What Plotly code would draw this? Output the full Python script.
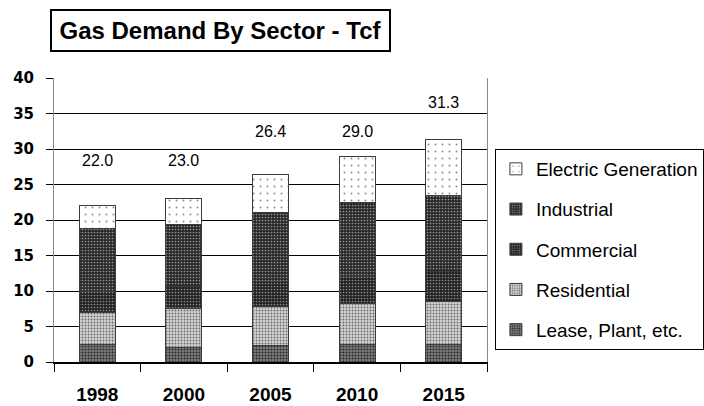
import plotly.graph_objects as go

# ───────────────────────── data (Tcf) ─────────────────────────
years = ["1998", "2000", "2005", "2010", "2015"]

lease_plant = [2.5, 2.1, 2.3, 2.5, 2.5]
residential = [4.5, 5.4, 5.5, 5.8, 6.0]
commercial = [3.0, 3.2, 3.5, 3.8, 4.2]
industrial = [8.8, 8.7, 9.8, 10.3, 10.7]
electric_gen = [3.2, 3.6, 5.3, 6.6, 7.9]

y_ticks = [0, 5, 10, 15, 20, 25, 30, 35, 40]

# ───────────────────────── styling ─────────────────────────
FONT = "Liberation Sans, Arial, sans-serif"
OUTLINE = "#3c3c3c"

series = [
    # name, values, bg, fg, dot size, solidity
    ("Lease, Plant, etc.", lease_plant, "#7c7c7c", "#262626", 3, 0.35),
    ("Residential", residential, "#d2d2d2", "#6a6a6a", 3, 0.3),
    ("Commercial", commercial, "#222222", "#8c8c8c", 3, 0.25),
    ("Industrial", industrial, "#282828", "#959595", 3, 0.25),
    ("Electric Generation", electric_gen, "#ffffff", "#8c8c8c", 7, 0.06),
]

fig = go.Figure()
for i, (name, vals, bg, fg, sz, sol) in enumerate(series):
    fig.add_trace(go.Bar(
        x=years, y=vals, name=name, legendgroup=f"g{i}",
        legendrank=len(series) - i,
        marker=dict(
            color=bg,
            line=dict(color=OUTLINE, width=1),
            pattern=dict(shape=".", bgcolor=bg, fgcolor=fg, size=sz,
                         solidity=sol, fillmode="replace"),
        ),
        hoverinfo="x+y+name",
    ))

# totals above the columns (hand-placed in the original)
totals = [round(sum(v), 1) for v in zip(lease_plant, residential, commercial,
                                         industrial, electric_gen)]
label_y = [28.4, 28.4, 32.4, 32.4, 36.6]
for idx, (tot, ly) in enumerate(zip(totals, label_y)):
    fig.add_annotation(x=idx, y=ly, text=f"{tot:.1f}", showarrow=False,
                       font=dict(family=FONT, size=16, color="#000"))

# boxed title
fig.add_annotation(
    xref="paper", yref="paper", x=0.3845, y=1.167, xanchor="center", yanchor="middle",
    text="<b>Gas Demand By Sector - Tcf</b>", showarrow=False,
    font=dict(family=FONT, size=24, color="#000"),
    bordercolor="#000", borderwidth=2, borderpad=2, width=333, height=35,
    bgcolor="#fff",
)

fig.update_layout(
    width=704, height=406,
    margin=dict(l=54, r=217, t=78, b=44),
    paper_bgcolor="#fff", plot_bgcolor="#fff",
    barmode="stack", bargap=0.585,
    font=dict(family=FONT, color="#000"),
    showlegend=True,
    legend=dict(
        xref="container", yref="container",
        x=0.703, y=0.633, xanchor="left", yanchor="top",
        traceorder="grouped", tracegroupgap=12.5,
        bordercolor="#000", borderwidth=1, bgcolor="#fff",
        font=dict(family=FONT, size=19, color="#000"),
    ),
)

fig.update_xaxes(
    type="category", range=[-0.5, len(years) - 0.5], showgrid=False, automargin=False,
    showline=True, linecolor="#000", linewidth=2,
    ticks="outside", tickson="boundaries", ticklen=8, tickcolor="#000",
    ticklabelstandoff=14, tickangle=0,
    tickfont=dict(family=FONT, size=19, color="#000", weight="bold"),
)
fig.update_yaxes(
    range=[0, 40], tickvals=y_ticks, automargin=False,
    showgrid=True, gridcolor="#000", gridwidth=1,
    zeroline=False,
    showline=True, linecolor="#8a8a8a", linewidth=1, mirror=True,
    ticks="outside", ticklen=7, tickcolor="#000",
    ticklabelstandoff=9,
    tickfont=dict(family="DejaVu Sans, sans-serif", size=15, color="#000", weight="bold"),
)

fig.write_html("out.html", config={"displayModeBar": False},
               post_script="document.body.style.margin='0px';")
